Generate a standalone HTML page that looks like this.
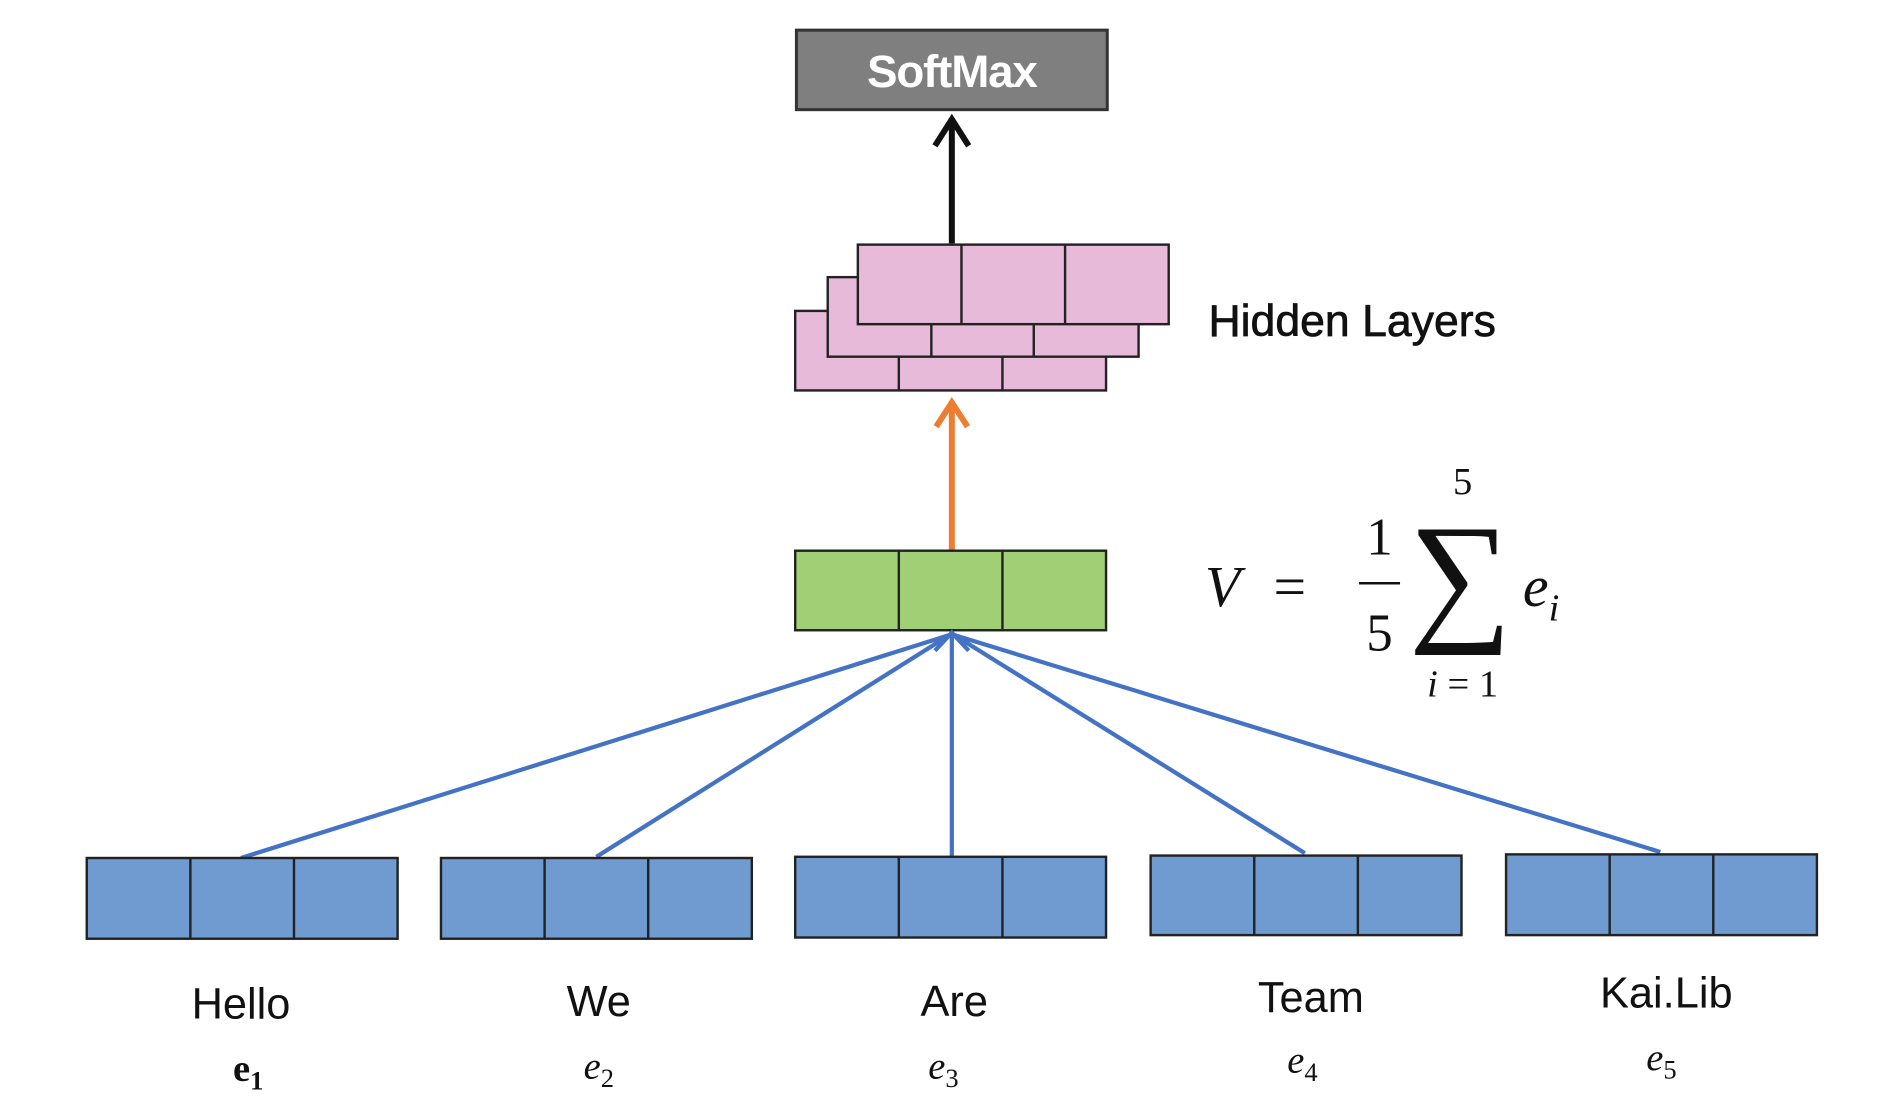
<!DOCTYPE html>
<html><head><meta charset="utf-8"><style>html,body{margin:0;padding:0;background:#fff;}svg{display:block}</style></head>
<body>
<svg width="1888" height="1099" viewBox="0 0 1567 912" preserveAspectRatio="none" xmlns="http://www.w3.org/2000/svg" font-family="Liberation Sans, sans-serif">
<rect x="0" y="0" width="1567" height="912" fill="#fff"/>
<rect x="661" y="25" width="258" height="66" fill="#7f7f7f" stroke="#333" stroke-width="2.5"/>
<text x="790" y="72" font-size="38" font-weight="bold" fill="#fff" text-anchor="middle" letter-spacing="-1">SoftMax</text>
<line x1="790" y1="202" x2="790" y2="98" stroke="#111" stroke-width="5"/>
<polyline points="776,121 790,99 804,121" fill="none" stroke="#111" stroke-width="5"/>
<g fill="#e8bada" stroke="#222" stroke-width="2">
<rect x="660" y="258" width="258" height="66"/><line x1="746" y1="258" x2="746" y2="324"/><line x1="832" y1="258" x2="832" y2="324"/>
<rect x="687" y="230" width="258" height="66"/><line x1="773" y1="230" x2="773" y2="296"/><line x1="858" y1="230" x2="858" y2="296"/>
<rect x="712" y="203" width="258" height="66"/><line x1="798" y1="203" x2="798" y2="269"/><line x1="884" y1="203" x2="884" y2="269"/>
</g>
<text x="1003" y="279" font-size="37" fill="#111" stroke="#111" stroke-width="0.6">Hidden Layers</text>
<line x1="790" y1="457" x2="790" y2="333" stroke="#ed7d31" stroke-width="5"/>
<polyline points="777,354 790,334 803,354" fill="none" stroke="#ed7d31" stroke-width="5"/>
<g fill="#a1cf76" stroke="#222" stroke-width="2">
<rect x="660" y="457" width="258" height="66"/><line x1="746" y1="457" x2="746" y2="523"/><line x1="832" y1="457" x2="832" y2="523"/>
</g>
<g font-family="Liberation Serif, serif" fill="#111">
<text x="1000" y="503" font-size="48" font-style="italic">V</text>
<text x="1057" y="503" font-size="48">=</text>
<text x="1145" y="460" font-size="44" text-anchor="middle">1</text>
<line x1="1128" y1="484" x2="1162" y2="484" stroke="#111" stroke-width="2"/>
<text x="1145" y="540" font-size="44" text-anchor="middle">5</text>
<text x="1212" y="518" font-size="120" text-anchor="middle">∑</text>
<text x="1214" y="410" font-size="32" text-anchor="middle">5</text>
<text x="1214" y="578" font-size="32" text-anchor="middle"><tspan font-style="italic">i</tspan> = 1</text>
<text x="1264" y="503" font-size="48" font-style="italic">e<tspan font-size="32" dy="12">i</tspan></text>
</g>
<g stroke="#4472c4" stroke-width="3.5" fill="none">
<line x1="200" y1="712" x2="788" y2="527"/>
<line x1="495" y1="711" x2="788" y2="527"/>
<line x1="790" y1="711" x2="790" y2="527"/>
<line x1="1083" y1="708" x2="792" y2="527"/>
<line x1="1378" y1="707" x2="792" y2="527"/>
<polyline points="776,540 790,525 804,540"/>
</g>
<g fill="#6f9bd1" stroke="#222" stroke-width="2">
<rect x="72" y="712" width="258" height="67"/><line x1="158" y1="712" x2="158" y2="779"/><line x1="244" y1="712" x2="244" y2="779"/>
<rect x="366" y="712" width="258" height="67"/><line x1="452" y1="712" x2="452" y2="779"/><line x1="538" y1="712" x2="538" y2="779"/>
<rect x="660" y="711" width="258" height="67"/><line x1="746" y1="711" x2="746" y2="778"/><line x1="832" y1="711" x2="832" y2="778"/>
<rect x="955" y="710" width="258" height="66"/><line x1="1041" y1="710" x2="1041" y2="776"/><line x1="1127" y1="710" x2="1127" y2="776"/>
<rect x="1250" y="709" width="258" height="67"/><line x1="1336" y1="709" x2="1336" y2="776"/><line x1="1422" y1="709" x2="1422" y2="776"/>
</g>
<g font-size="36" fill="#111" text-anchor="middle">
<text x="200" y="845">Hello</text>
<text x="497" y="843">We</text>
<text x="792" y="843">Are</text>
<text x="1088" y="840">Team</text>
<text x="1383" y="836">Kai.Lib</text>
</g>
<g font-family="Liberation Serif, serif" font-size="32" fill="#111" text-anchor="middle" font-style="italic">
<text x="206" y="897" font-weight="bold" font-style="normal">e<tspan font-size="22" dy="7">1</tspan></text>
<text x="497" y="895">e<tspan font-size="22" dy="7" font-style="normal">2</tspan></text>
<text x="783" y="895">e<tspan font-size="22" dy="7" font-style="normal">3</tspan></text>
<text x="1081" y="890">e<tspan font-size="22" dy="7" font-style="normal">4</tspan></text>
<text x="1379" y="888">e<tspan font-size="22" dy="7" font-style="normal">5</tspan></text>
</g>
</svg>
</body></html>
